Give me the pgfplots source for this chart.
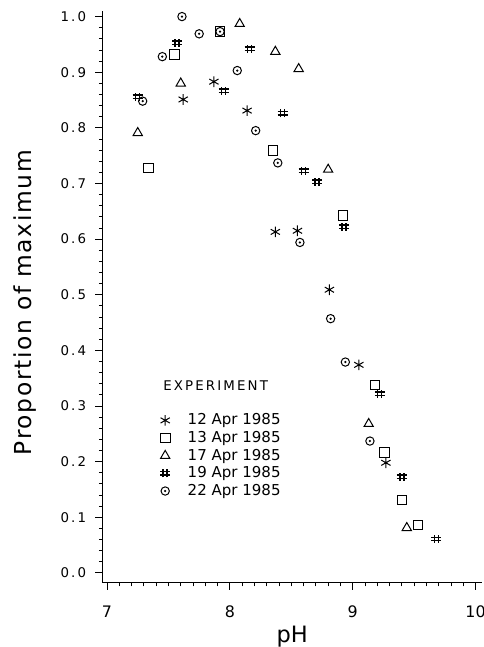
\documentclass[border=0pt]{standalone}
\usepackage{fontspec}
\setmainfont{DejaVu Sans}
\newfontfamily\tickfont{DejaVu Sans}[LetterSpace=16]
\newfontfamily\labelfont{DejaVu Sans}[LetterSpace=7]
\usepackage{pgfplots}
\pgfplotsset{compat=1.18}

% plot marks used by the original plotter
\pgfdeclareplotmark{hash}{%
  \pgfpathmoveto{\pgfpoint{-\pgfplotmarksize}{0.35\pgfplotmarksize}}%
  \pgfpathlineto{\pgfpoint{\pgfplotmarksize}{0.35\pgfplotmarksize}}%
  \pgfpathmoveto{\pgfpoint{-\pgfplotmarksize}{-0.35\pgfplotmarksize}}%
  \pgfpathlineto{\pgfpoint{\pgfplotmarksize}{-0.35\pgfplotmarksize}}%
  \pgfpathmoveto{\pgfpoint{-0.4\pgfplotmarksize}{-0.8\pgfplotmarksize}}%
  \pgfpathlineto{\pgfpoint{-0.4\pgfplotmarksize}{0.8\pgfplotmarksize}}%
  \pgfpathmoveto{\pgfpoint{0.4\pgfplotmarksize}{-0.8\pgfplotmarksize}}%
  \pgfpathlineto{\pgfpoint{0.4\pgfplotmarksize}{0.8\pgfplotmarksize}}%
  \pgfusepathqstroke}
\pgfdeclareplotmark{odot}{%
  \pgfpathcircle{\pgfpointorigin}{\pgfplotmarksize}%
  \pgfusepathqstroke
  \pgfpathcircle{\pgfpointorigin}{0.3\pgfplotmarksize}%
  \pgfusepathqfill}

\begin{document}
\begin{tikzpicture}
\begin{axis}[
  name=ax,
  x=73.62pt, y=333.4pt,
  xmin=6.96, xmax=10.056,
  ymin=-0.018, ymax=1.01,
  axis lines*=left,
  axis line style={-, line width=0.6pt},
  tick align=outside,
  major tick length=4pt,
  minor tick length=2pt,
  every tick/.style={black, line width=0.5pt},
  xtick={7,8,9,10},
  xticklabels={7,8,9,10},
  minor x tick num=9,
  ytick={0,0.1,0.2,0.3,0.4,0.5,0.6,0.7,0.8,0.9,1.0},
  yticklabels={0.\thinspace0,0.\thinspace1,0.\thinspace2,0.\thinspace3,0.\thinspace4,0.\thinspace5,0.\thinspace6,0.\thinspace7,0.\thinspace8,0.\thinspace9,1.\thinspace0},
  minor y tick num=4,
  xticklabel style={font=\fontsize{9.5}{11}\selectfont, yshift=-6pt},
  yticklabel style={font=\tickfont\fontsize{8}{9}\selectfont, xshift=-2pt},
  xlabel={pH},
  ylabel={Proportion of maximum},
  xlabel style={font=\fontsize{13.5}{15}\selectfont, at={(axis description cs:0.5,0)}, anchor=center, yshift=-32pt},
  ylabel style={font=\labelfont\fontsize{14}{16}\selectfont, at={(axis description cs:0,0.49)}, anchor=center, yshift=46pt},
  clip=false,
  only marks,
  every axis plot/.append style={black, line width=0.6pt},
  legend cell align=left,
  legend style={at={(axis cs:7.43,0.29)}, anchor=north west, draw=none, fill=none,
    font=\fontsize{9}{10}\selectfont, row sep=0.4pt, inner sep=0pt,
    nodes={inner sep=1pt},
    /tikz/every odd column/.style={column sep=9.5pt}},
]

% 12 Apr 1985
\addplot[mark=asterisk, mark size=3.2pt] coordinates {
  (7.62,0.851) (7.87,0.883) (8.14,0.831) (8.37,0.613) (8.55,0.615)
  (8.81,0.509) (9.05,0.374) (9.27,0.198)
};
\addlegendentry{12 Apr 1985}

% 13 Apr 1985
\addplot[mark=square, mark size=2.9pt] coordinates {
  (7.34,0.728) (7.55,0.932) (7.92,0.973) (8.35,0.759) (8.92,0.642)
  (9.18,0.338) (9.26,0.216) (9.40,0.131) (9.53,0.086)
};
\addlegendentry{13 Apr 1985}

% 17 Apr 1985
\addplot[mark=triangle, mark size=3.2pt] coordinates {
  (7.25,0.791) (7.60,0.880) (8.08,0.987) (8.37,0.937) (8.56,0.906)
  (8.80,0.725) (9.13,0.268) (9.44,0.081)
};
\addlegendentry{17 Apr 1985}

% 19 Apr 1985
\addplot[mark=hash, mark size=3pt, line width=0.85pt] coordinates {
  (7.25,0.856) (7.57,0.953) (7.95,0.867) (8.16,0.942) (8.43,0.826)
  (8.60,0.723) (8.71,0.703) (8.93,0.622) (9.22,0.322) (9.40,0.173)
  (9.68,0.061)
};
\addlegendentry{19 Apr 1985}

% 22 Apr 1985
\addplot[mark=odot, mark size=2.5pt] coordinates {
  (7.29,0.848) (7.45,0.928) (7.61,1.000) (7.75,0.969) (7.92,0.973)
  (8.06,0.903) (8.21,0.795) (8.39,0.737) (8.57,0.594) (8.82,0.457)
  (8.94,0.379) (9.14,0.237)
};
\addlegendentry{22 Apr 1985}

\node[anchor=west, font=\tickfont\fontsize{8}{10}\selectfont, inner sep=0pt]
  at (axis cs:7.456,0.337) {EXPERIMENT};
\end{axis}
\pgfresetboundingbox
\path (ax.south west) ++(-61.2pt,-38.4pt) rectangle ([shift={(0.6pt,6.6pt)}]ax.north east);
\end{tikzpicture}
\end{document}
